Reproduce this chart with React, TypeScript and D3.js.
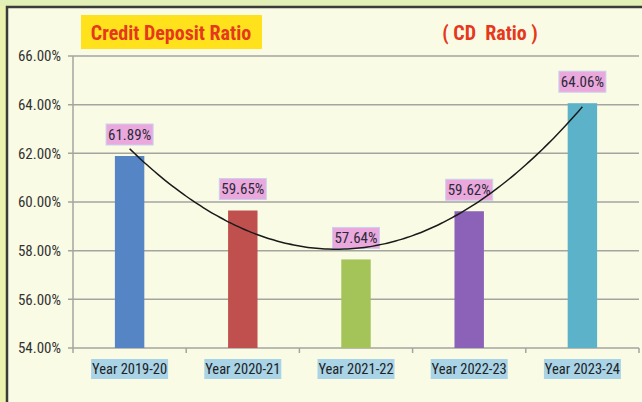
import React from "react";
import * as d3 from "d3";

const years = ["Year 2019-20", "Year 2020-21", "Year 2021-22", "Year 2022-23", "Year 2023-24"];
const cdRatio = [61.89, 59.65, 57.64, 59.62, 64.06];
const barColors = ["#5585c4", "#c0504d", "#a4c459", "#8b62b7", "#5cb3c9"];
const yTicks = [54, 56, 58, 60, 62, 64, 66];

const W = 642, H = 402;
const margin = { top: 56, right: 3, bottom: 54, left: 73 };
const FONT = "'Liberation Sans Narrow', 'Arial Narrow', 'Roboto Condensed', sans-serif";

// order-2 polynomial trendline (least squares), like Excel
function quadFit(ys: number[]) {
  const n = ys.length;
  const xs = ys.map((_, i) => i - (n - 1) / 2);
  const s2 = d3.sum(xs, x => x * x), s4 = d3.sum(xs, x => x ** 4);
  const sy = d3.sum(ys), sxy = d3.sum(xs, (x, i) => x * ys[i]), sx2y = d3.sum(xs, (x, i) => x * x * ys[i]);
  const b = sxy / s2;
  const c = (sx2y - (s2 / n) * sy) / (s4 - (s2 * s2) / n);
  const a = (sy - c * s2) / n;
  return (t: number) => a + b * (t - (n - 1) / 2) + c * (t - (n - 1) / 2) ** 2;
}

export default function App() {
  const iw = W - margin.left - margin.right;
  const ih = H - margin.top - margin.bottom;
  const x = d3.scaleBand().domain(years).range([0, iw]).paddingInner(0.74).paddingOuter(0.37);
  const band = d3.scaleBand().domain(years).range([0, iw]);
  const y = d3.scaleLinear().domain([54, 66]).range([ih, 0]);
  const fit = quadFit(cdRatio);
  const samples = d3.range(0, 4.0001, 0.05);
  const line = d3.line<number>()
    .x(t => band(years[0])! + band.bandwidth() / 2 + t * band.step())
    .y(t => y(fit(t)))
    .curve(d3.curveBasis);

  return (
    <svg width={W} height={H} style={{ position: "absolute", left: 0, top: 0 }}>
      <rect x={0} y={0} width={W} height={H} fill="#edf1b0" />
      <rect x={0} y={0} width={W} height={6} fill="#e2efb6" />
      <rect x={7} y={7} width={W + 10} height={H + 10} fill="#fafbe5" stroke="#3a3a3a" strokeWidth={2.5} />

      <rect x={81} y={15} width={181} height={34} fill="#ffe11c" />
      <text x={171} y={39.5} textAnchor="middle" fill="#e5381c" fontFamily={FONT} fontSize={20} fontWeight="bold">
        Credit Deposit Ratio
      </text>
      <text x={490} y={39.5} textAnchor="middle" fill="#e5381c" fontFamily={FONT} fontSize={20} fontWeight="bold" style={{ whiteSpace: "pre" }}>
        ( CD  Ratio )
      </text>

      <g transform={`translate(${margin.left},${margin.top})`}>
        {yTicks.map(t => (
          <g key={t}>
            <line x1={-5} x2={iw} y1={y(t)} y2={y(t)} stroke="#a5a5a0" strokeWidth={1.5} />
            <text x={-12} y={y(t)} dy="0.35em" textAnchor="end" fontFamily={FONT} fontSize={15} fill="#333">
              {t.toFixed(2)}%
            </text>
          </g>
        ))}
        <line x1={0} x2={0} y1={0} y2={ih} stroke="#a5a5a0" strokeWidth={1.5} />
        {band.domain().map(d => (
          <line key={d} x1={band(d)! + band.step()} x2={band(d)! + band.step()} y1={ih} y2={ih + 5} stroke="#a5a5a0" strokeWidth={1.5} />
        ))}
        <line x1={0} x2={0} y1={ih} y2={ih + 5} stroke="#a5a5a0" strokeWidth={1.5} />

        {years.map((d, i) => (
          <rect key={d} x={x(d)} y={y(cdRatio[i])} width={x.bandwidth()} height={ih - y(cdRatio[i])} fill={barColors[i]} />
        ))}

        {years.map((d, i) => {
          const cx = band(d)! + band.bandwidth() / 2;
          const by = y(cdRatio[i]) - 11;
          return (
            <g key={d}>
              <rect x={cx - 23.5} y={by - 21} width={47} height={21} fill="#eba8dc" stroke="#c8d2f0" strokeWidth={1} />
              <text x={cx} y={by - 10.5} dy="0.36em" textAnchor="middle" fontFamily={FONT} fontSize={15} fill="#2a2a3a">
                {cdRatio[i].toFixed(2)}%
              </text>
            </g>
          );
        })}

        <path d={line(samples) ?? ""} fill="none" stroke="#1a1a1a" strokeWidth={1.5} />

        {years.map(d => {
          const cx = band(d)! + band.bandwidth() / 2;
          return (
            <g key={d}>
              <rect x={cx - 38.5} y={ih + 11} width={77} height={20} fill="#a9d3e6" />
              <text x={cx} y={ih + 21} dy="0.36em" textAnchor="middle" fontFamily={FONT} fontSize={14.5} fill="#222">
                {d}
              </text>
            </g>
          );
        })}
      </g>
    </svg>
  );
}
